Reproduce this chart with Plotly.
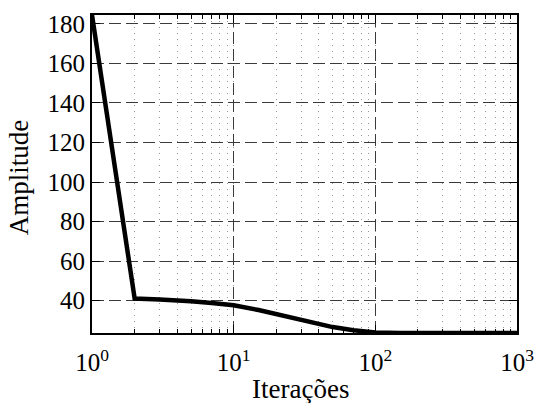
import plotly.graph_objects as go

# Amplitude per iteration (log-scaled iteration axis)
iterations = [1, 2, 3, 4, 5, 7, 10, 15, 20, 30, 40, 50, 70, 100, 150, 200, 500, 1000]
amplitude = [184.5, 41.0, 40.6, 40.2, 39.7, 38.8, 37.6, 35.2, 33.2, 30.2, 28.0, 26.6, 25.0, 23.9, 23.6, 23.6, 23.6, 23.6]

x_tick_vals = [1, 10, 100, 1000]
x_tick_text = ["10<sup>0</sup>", "10<sup>1</sup>", "10<sup>2</sup>", "10<sup>3</sup>"]
y_tick_vals = [40, 60, 80, 100, 120, 140, 160, 180]

FONT = "Liberation Serif"

fig = go.Figure()
fig.add_trace(go.Scatter(
    x=iterations, y=amplitude, mode="lines",
    line=dict(color="black", width=4.5),
    showlegend=False,
))

axis_common = dict(
    showline=True, linecolor="black", linewidth=2, mirror="allticks",
    ticks="inside", ticklen=8, tickcolor="black", tickwidth=1,
    showgrid=True, gridcolor="#3a3a3a", gridwidth=1, griddash="12px,5px",
    zeroline=False, automargin=False, ticklabeloverflow="allow",
    tickfont=dict(family=FONT, size=25, color="black"),
)

fig.update_xaxes(
    type="log", range=[0, 3],
    tickvals=x_tick_vals, ticktext=x_tick_text,
    ticklabelstandoff=6,
    minor=dict(dtick="D1", ticks="inside", ticklen=4, tickcolor="black",
               showgrid=True, gridcolor="#999999", gridwidth=1, griddash="1px,5px"),
    **axis_common,
)
fig.update_yaxes(
    range=[min(amplitude), max(amplitude)],
    tickvals=y_tick_vals,
    **axis_common,
)

fig.add_annotation(text="Iterações", xref="paper", yref="paper", x=0.49, y=0,
                   xanchor="center", yanchor="bottom", yshift=-73, showarrow=False,
                   font=dict(family=FONT, size=27, color="black"))
fig.add_annotation(text="Amplitude", xref="paper", yref="paper", x=0, y=0.49,
                   xanchor="right", yanchor="middle", xshift=-56, textangle=-90,
                   showarrow=False, font=dict(family=FONT, size=27, color="black"))

fig.update_layout(
    width=534, height=403,
    margin=dict(l=92, r=17, t=15, b=70),
    paper_bgcolor="white", plot_bgcolor="white",
)

fig.write_html("out.html")
